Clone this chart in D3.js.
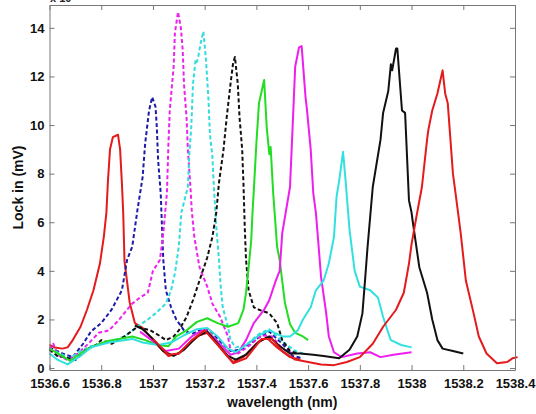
<!DOCTYPE html>
<html>
<head>
	<script src="https://cdnjs.cloudflare.com/ajax/libs/d3/7.8.5/d3.min.js"></script>
	<style>
		html, body {
			padding: 0;
			margin: 0;
			background: #fff;
		}
	</style>
</head>
<body>
	<script>
		var width = 536, height = 414;

		//////// DATA ////////
		var xTicks = [1536.6, 1536.8, 1537, 1537.2, 1537.4, 1537.6, 1537.8, 1538, 1538.2, 1538.4];
		var yTicks = [0, 2, 4, 6, 8, 10, 12, 14];

		var red1 = [[1536.6,0.95],[1536.62,0.85],[1536.65,0.8],[1536.67,0.85],[1536.69,1.15],[1536.72,1.7],[1536.745,2.4],[1536.77,3.2],[1536.795,4.3],[1536.81,5.4],[1536.82,6.4],[1536.826,7.7],[1536.834,9.0],[1536.845,9.5],[1536.865,9.6],[1536.873,9.0],[1536.88,7.6],[1536.885,6.4],[1536.89,4.4],[1536.91,2.7],[1536.93,1.85],[1536.96,1.65],[1537.0,1.15],[1537.03,0.8],[1537.06,0.5],[1537.1,0.6],[1537.14,1.0],[1537.18,1.35],[1537.21,1.45],[1537.25,0.95],[1537.29,0.45],[1537.31,0.25],[1537.35,0.45],[1537.4,1.0],[1537.44,1.25],[1537.48,0.85],[1537.53,0.45],[1537.57,0.35]];

		var blueDash = [[1536.6,0.85],[1536.61,0.8],[1536.65,0.6],[1536.69,0.45],[1536.73,1.0],[1536.76,1.5],[1536.8,1.85],[1536.84,2.4],[1536.88,3.2],[1536.9,4.45],[1536.92,5.0],[1536.94,6.5],[1536.96,7.85],[1536.97,9.25],[1536.985,10.6],[1536.997,11.15],[1537.01,10.75],[1537.015,9.9],[1537.02,8.55],[1537.03,7.2],[1537.035,5.8],[1537.04,4.45],[1537.05,3.2],[1537.07,2.5],[1537.09,2.0],[1537.12,1.55],[1537.15,1.4],[1537.19,1.6],[1537.22,1.55],[1537.26,1.1],[1537.3,0.7],[1537.34,0.75],[1537.4,1.2],[1537.45,1.5],[1537.5,1.0],[1537.54,0.5],[1537.58,0.4]];

		var magentaDash = [[1536.6,0.75],[1536.615,1.0],[1536.63,0.55],[1536.67,0.33],[1536.71,0.6],[1536.75,1.0],[1536.79,1.45],[1536.83,1.55],[1536.87,2.0],[1536.9,2.4],[1536.92,2.65],[1536.95,2.9],[1536.98,3.1],[1537.0,4.0],[1537.027,4.45],[1537.04,5.55],[1537.054,7.2],[1537.06,9.25],[1537.065,10.6],[1537.08,12.4],[1537.085,13.8],[1537.097,14.65],[1537.108,14.0],[1537.115,13.1],[1537.12,11.7],[1537.13,10.3],[1537.135,9.0],[1537.145,7.45],[1537.15,6.5],[1537.16,5.4],[1537.18,4.15],[1537.21,3.35],[1537.23,2.65],[1537.26,2.1],[1537.29,1.3],[1537.3,0.75],[1537.33,0.6],[1537.37,0.9],[1537.42,1.35],[1537.46,1.3],[1537.5,0.8],[1537.55,0.55]];

		var cyanDash = [[1536.6,0.8],[1536.64,0.6],[1536.68,0.4],[1536.72,0.7],[1536.76,0.9],[1536.8,1.0],[1536.85,1.15],[1536.89,1.3],[1536.94,1.7],[1536.98,2.0],[1537.01,2.25],[1537.05,2.65],[1537.07,3.2],[1537.085,3.9],[1537.1,5.0],[1537.11,6.4],[1537.135,7.45],[1537.14,8.7],[1537.148,9.9],[1537.155,11.7],[1537.165,12.7],[1537.17,12.6],[1537.175,12.8],[1537.185,13.4],[1537.195,13.85],[1537.205,12.7],[1537.215,11.0],[1537.22,9.65],[1537.23,8.7],[1537.233,8.0],[1537.237,7.2],[1537.245,5.8],[1537.255,4.5],[1537.262,3.35],[1537.27,2.5],[1537.29,1.7],[1537.3,1.15],[1537.32,0.85],[1537.36,0.95],[1537.41,1.4],[1537.45,1.6],[1537.5,1.1],[1537.55,0.7],[1537.58,0.6]];

		var blackDash = [[1536.6,0.75],[1536.63,0.5],[1536.66,0.45],[1536.7,0.33],[1536.74,0.75],[1536.78,0.95],[1536.8,1.15],[1536.84,1.0],[1536.89,1.3],[1536.94,1.7],[1536.99,1.55],[1537.03,1.3],[1537.05,1.15],[1537.08,1.3],[1537.1,1.55],[1537.13,2.1],[1537.155,2.8],[1537.18,3.6],[1537.21,4.55],[1537.23,5.4],[1537.245,6.4],[1537.255,7.6],[1537.273,9.0],[1537.285,10.3],[1537.3,11.7],[1537.31,12.55],[1537.317,12.8],[1537.328,11.7],[1537.335,10.3],[1537.345,9.0],[1537.35,7.6],[1537.355,5.8],[1537.36,4.45],[1537.37,3.2],[1537.39,2.5],[1537.41,2.4],[1537.45,2.25],[1537.48,1.85],[1537.5,1.15],[1537.53,0.7],[1537.56,0.6]];

		var green = [[1536.6,0.8],[1536.64,0.55],[1536.68,0.3],[1536.72,0.6],[1536.77,0.9],[1536.82,1.1],[1536.87,1.2],[1536.92,1.3],[1536.97,1.15],[1537.02,0.95],[1537.06,0.9],[1537.09,1.3],[1537.13,1.55],[1537.17,1.9],[1537.21,2.05],[1537.25,1.85],[1537.29,1.7],[1537.33,1.85],[1537.35,2.4],[1537.36,3.1],[1537.37,4.15],[1537.38,5.25],[1537.385,6.4],[1537.39,7.3],[1537.4,9.25],[1537.41,10.9],[1537.43,11.85],[1537.44,9.9],[1537.45,8.8],[1537.455,9.1],[1537.465,7.2],[1537.48,5.0],[1537.49,4.45],[1537.51,2.7],[1537.53,1.8],[1537.55,1.45],[1537.58,1.3],[1537.6,1.15]];

		var magenta = [[1536.95,1.5],[1537.0,1.1],[1537.05,0.7],[1537.1,0.8],[1537.15,1.3],[1537.2,1.6],[1537.25,1.1],[1537.3,0.55],[1537.33,0.65],[1537.36,1.15],[1537.39,1.85],[1537.43,2.4],[1537.45,2.8],[1537.475,3.6],[1537.49,4.0],[1537.5,5.55],[1537.53,7.45],[1537.54,9.9],[1537.55,12.4],[1537.565,13.2],[1537.575,13.25],[1537.59,11.15],[1537.595,10.7],[1537.61,9.0],[1537.62,7.2],[1537.63,6.4],[1537.64,5.1],[1537.65,3.75],[1537.67,2.25],[1537.68,1.3],[1537.7,0.65],[1537.73,0.45],[1537.79,0.6],[1537.84,0.65],[1537.88,0.45],[1537.93,0.55],[1538.0,0.65]];

		var cyan = [[1536.6,0.6],[1536.63,0.35],[1536.67,0.15],[1536.72,0.5],[1536.76,0.85],[1536.83,1.05],[1536.92,1.2],[1536.96,1.05],[1537.02,0.95],[1537.07,1.05],[1537.12,1.35],[1537.17,1.6],[1537.21,1.65],[1537.25,1.3],[1537.29,0.8],[1537.32,0.65],[1537.36,0.95],[1537.41,1.35],[1537.45,1.55],[1537.5,1.3],[1537.53,1.3],[1537.56,1.55],[1537.58,2.0],[1537.61,2.5],[1537.63,3.2],[1537.66,3.6],[1537.68,4.3],[1537.7,5.4],[1537.71,7.05],[1537.72,7.7],[1537.735,8.9],[1537.745,7.7],[1537.75,7.05],[1537.76,5.7],[1537.78,4.0],[1537.8,3.35],[1537.84,3.2],[1537.87,2.9],[1537.89,2.1],[1537.91,1.45],[1537.92,1.15],[1537.96,0.95],[1538.0,0.85]];

		var black = [[1536.93,1.75],[1536.96,1.6],[1537.0,1.2],[1537.04,0.7],[1537.08,0.5],[1537.12,0.75],[1537.17,1.3],[1537.21,1.5],[1537.25,1.0],[1537.29,0.5],[1537.32,0.35],[1537.36,0.55],[1537.41,1.1],[1537.45,1.3],[1537.49,0.9],[1537.53,0.6],[1537.57,0.6],[1537.62,0.55],[1537.66,0.5],[1537.72,0.4],[1537.76,0.75],[1537.79,1.3],[1537.81,2.25],[1537.82,3.6],[1537.83,5.0],[1537.85,7.45],[1537.88,9.4],[1537.89,10.5],[1537.91,11.4],[1537.92,12.5],[1537.925,12.25],[1537.94,13.15],[1537.945,13.15],[1537.963,10.6],[1537.975,10.5],[1537.99,6.9],[1538.0,6.4],[1538.005,6.0],[1538.03,4.15],[1538.06,3.1],[1538.08,2.0],[1538.1,1.15],[1538.12,0.8],[1538.16,0.7],[1538.2,0.6]];

		var red2 = [[1537.0,1.2],[1537.06,0.55],[1537.1,0.6],[1537.15,1.15],[1537.2,1.55],[1537.26,0.85],[1537.31,0.2],[1537.36,0.4],[1537.42,1.2],[1537.46,1.2],[1537.5,0.7],[1537.55,0.35],[1537.6,0.25],[1537.65,0.15],[1537.7,0.12],[1537.75,0.25],[1537.8,0.45],[1537.85,1.0],[1537.89,1.7],[1537.94,2.4],[1537.97,3.1],[1537.99,4.3],[1538.0,5.1],[1538.02,6.3],[1538.04,7.45],[1538.06,9.4],[1538.065,9.8],[1538.08,10.6],[1538.1,11.3],[1538.12,12.25],[1538.13,11.3],[1538.14,10.9],[1538.16,8.0],[1538.17,7.2],[1538.19,5.55],[1538.21,3.6],[1538.24,2.25],[1538.26,1.3],[1538.29,0.6],[1538.33,0.2],[1538.37,0.25],[1538.39,0.4],[1538.41,0.45]];

		//////// SETUP ////////
		var svg = d3.select('body').append('svg')
			.attr('width', width)
			.attr('height', height)
			.style('font-family', '"Liberation Sans", Arial, sans-serif');

		var plotLeft = 49.5, plotRight = 515, plotTop = 5, plotBottom = 370;

		var x = d3.scaleLinear().domain([1536.6, 1538.4]).range([plotLeft, plotRight]);
		var y = d3.scaleLinear().domain([-0.08, 14.94]).range([plotBottom, plotTop]);

		var line = d3.line()
			.x(function(d) { return x(d[0]); })
			.y(function(d) { return y(d[1]); });

		// series drawn in plot order
		var series = [
			{ data: red1, color: '#e41a1c', dash: null },
			{ data: blueDash, color: '#1c1ca8', dash: '4,2.5' },
			{ data: magentaDash, color: '#ee22ee', dash: '4,2.5' },
			{ data: cyanDash, color: '#33dddd', dash: '4,2.5' },
			{ data: blackDash, color: '#111111', dash: '4,2.5' },
			{ data: green, color: '#22dd22', dash: null },
			{ data: magenta, color: '#ee1eee', dash: null },
			{ data: cyan, color: '#33e0e0', dash: null },
			{ data: black, color: '#111111', dash: null },
			{ data: red2, color: '#e41a1c', dash: null }
		];

		//////// LINES ////////
		series.forEach(function(s) {
			svg.append('path')
				.datum(s.data)
				.attr('d', line)
				.attr('fill', 'none')
				.attr('stroke', s.color)
				.attr('stroke-width', 2)
				.attr('stroke-linejoin', 'round')
				.attr('stroke-dasharray', s.dash);
		});

		//////// AXES ////////
		var fmt = function(d) { return String(+d.toFixed(1)); };

		var xAxis = svg.append('g')
			.attr('transform', 'translate(0,' + plotBottom + ')')
			.call(d3.axisBottom(x).tickValues(xTicks).tickFormat(fmt).tickSizeInner(-5).tickSizeOuter(0).tickPadding(9));

		var xTop = svg.append('g')
			.attr('transform', 'translate(0,' + plotTop + ')')
			.call(d3.axisTop(x).tickValues(xTicks).tickFormat('').tickSizeInner(-5).tickSizeOuter(0));

		var yAxis = svg.append('g')
			.attr('transform', 'translate(' + plotLeft + ',0)')
			.call(d3.axisLeft(y).tickValues(yTicks).tickSizeInner(-5).tickSizeOuter(0).tickPadding(5));

		var yRight = svg.append('g')
			.attr('transform', 'translate(' + plotRight + ',0)')
			.call(d3.axisRight(y).tickValues(yTicks).tickFormat('').tickSizeInner(-5).tickSizeOuter(0));

		[xAxis, xTop, yAxis, yRight].forEach(function(g) {
			g.selectAll('path, line').attr('stroke', '#777').attr('stroke-width', 1);
			g.selectAll('text')
				.attr('fill', '#111')
				.style('font-family', '"Liberation Sans", Arial, sans-serif')
				.style('font-weight', 'bold')
				.style('font-size', '13px');
		});

		//////// LABELS ////////
		svg.append('text')
			.attr('x', (plotLeft + plotRight) / 2)
			.attr('y', 407)
			.attr('text-anchor', 'middle')
			.style('font-weight', 'bold')
			.style('font-size', '14px')
			.attr('fill', '#111')
			.text('wavelength (nm)');

		svg.append('text')
			.attr('transform', 'translate(23,' + (plotTop + plotBottom) / 2 + ') rotate(-90)')
			.attr('text-anchor', 'middle')
			.style('font-weight', 'bold')
			.style('font-size', '14px')
			.attr('fill', '#111')
			.text('Lock in (mV)');

		// exponent label, cut off at the top edge
		svg.append('text')
			.attr('x', 50)
			.attr('y', 2)
			.style('font-weight', 'bold')
			.style('font-size', '11px')
			.attr('fill', '#222')
			.text('x 10');
	</script>
</body>
</html>
